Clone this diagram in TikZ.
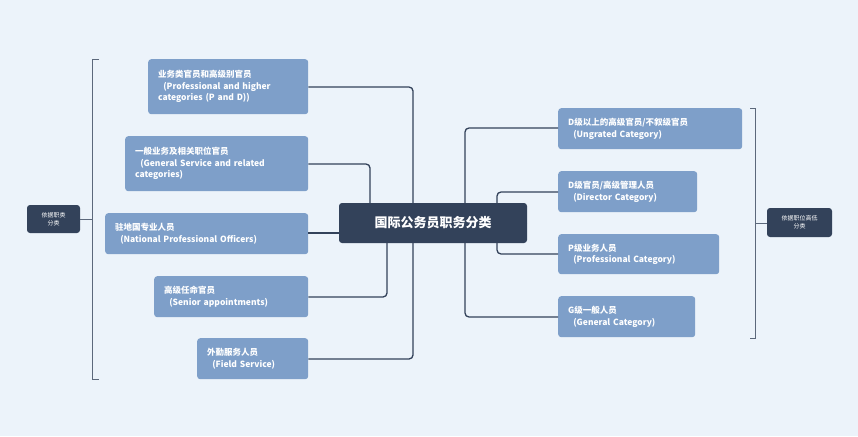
\documentclass[tikz,border=0pt]{standalone}
\usepackage{fontspec}
\setmainfont{Noto Sans CJK SC}
\begin{document}
\begin{tikzpicture}[x=1pt,y=-1pt]
\definecolor{bg}{HTML}{ECF3FA}
\definecolor{box}{HTML}{7E9FC9}
\definecolor{dark}{HTML}{33425A}
\tikzset{
 leaf/.style={fill=box,rounded corners=3pt,text=white,font=\fontsize{8.5}{11.5}\selectfont\bfseries,align=left,inner sep=0pt,anchor=north west},
 tag/.style={fill=dark,rounded corners=3pt,text=white,font=\fontsize{6}{8}\selectfont,align=center,inner sep=0pt},
 link/.style={draw=dark,line width=1.3pt,rounded corners=4pt},
 brk/.style={draw=dark!80,line width=0.9pt}
}
\fill[bg] (0,0) rectangle (858,436);
\newcommand{\leafbox}[6]{% name x1 y1 x2 y2 text
 \node[leaf,minimum width=#4-#2,minimum height=#5-#3,text width=#4-#2-20] (#1) at (#2,#3) {#6};}
\leafbox{l1}{148}{59}{308}{114}{业务类官员和高级别官员\\\hspace*{0.6em}(Professional and higher\\categories (P and D))}
\leafbox{l2}{125}{136}{308}{191}{一般业务及相关职位官员\\\hspace*{0.6em}(General Service and related\\categories)}
\leafbox{l3}{105}{213}{308}{254}{驻地国专业人员\\\hspace*{0.6em}(National Professional Officers)}
\leafbox{l4}{154}{276}{308}{317}{高级任命官员\\\hspace*{0.6em}(Senior appointments)}
\leafbox{l5}{197}{338}{308}{379}{外勤服务人员\\\hspace*{0.6em}(Field Service)}
\leafbox{r1}{558}{108}{742}{149}{D级以上的高级官员/不叙级官员\\\hspace*{0.6em}(Ungrated Category)}
\leafbox{r2}{558}{171}{697}{212}{D级官员/高级管理人员\\\hspace*{0.6em}(Director Category)}
\leafbox{r3}{558}{234}{719}{274}{P级业务人员\\\hspace*{0.6em}(Professional Category)}
\leafbox{r4}{558}{296}{695}{337}{G级一般人员\\\hspace*{0.6em}(General Category)}
\node[fill=dark,rounded corners=3pt,text=white,font=\fontsize{13}{15}\selectfont\bfseries,minimum width=188,minimum height=40,inner sep=0pt] (c) at (433,223) {国际公务员职务分类};
\node[tag,minimum width=53,minimum height=28] (tl) at (53.5,219) {依据职类\\分类};
\node[tag,minimum width=65,minimum height=29] (tr) at (799.5,222.5) {依据职位高低\\分类};
% left links
\draw[link] (l1.east|-0,87) -| (413,203);
\draw[link] (l5.east|-0,359) -| (413,243);
\draw[link] (l2.east|-0,164) -| (370,203);
\draw[link] (l3.east|-0,233) -- (c.west|-0,233);
\draw[link] (l4.east|-0,297) -| (387,243);
% right links
\draw[link] (r1.west|-0,128) -| (465,203);
\draw[link] (r4.west|-0,317) -| (465,243);
\draw[link] (r2.west|-0,192) -| (497,223);
\draw[link] (r3.west|-0,254) -| (497,223);
\draw[link] (c.east|-0,223) -- (497,223);
% brackets
\draw[brk] (99,59) -- (92,59) -- (92,379) -- (99,379);
\draw[brk] (tl.east) -- (92,219);
\draw[brk] (750,108) -- (755,108) -- (755,338) -- (750,338);
\draw[brk] (755,223) -- (tr.west|-0,223);
\end{tikzpicture}
\end{document}
